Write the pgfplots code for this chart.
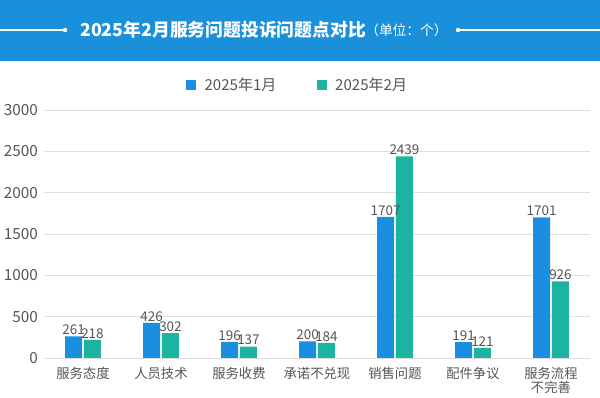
\documentclass[border=0pt]{standalone}
\usepackage{fontspec}
\setmainfont{Noto Sans CJK SC}
\usepackage{pgfplots}
\pgfplotsset{compat=1.18}
\definecolor{banner}{HTML}{1A8FDA}
\definecolor{cblue}{HTML}{1A8FE0}
\definecolor{cgreen}{HTML}{1BB4A0}
\definecolor{tgray}{HTML}{555555}
\begin{document}
\begin{tikzpicture}[x=0.75pt,y=0.75pt]
\path[use as bounding box] (0,0) rectangle (600,398);
\fill[banner] (0,337) rectangle (600,398);
\draw[white, line width=0.8pt] (0,368) -- (65,368);
\fill[white] (65,368) circle (2.2);
\draw[white, line width=0.8pt] (458,368) -- (600,368);
\fill[white] (458,368) circle (2.2);
\node[white, font=\bfseries\fontsize{13.35}{14}\selectfont, anchor=west, inner sep=0pt] at (80,368) {2025年2月服务问题投诉问题点对比};
\node[white, font=\fontsize{10.3}{11}\selectfont, anchor=west, inner sep=0pt] at (365,368) {（单位：个）};
\begin{axis}[
  at={(33pt,30pt)}, anchor=south west,
  scale only axis, width=409.5pt, height=186pt,
  xmin=-0.5, xmax=6.5, ymin=0, ymax=3000,
  ytick={0,500,...,3000},
  ymajorgrids, grid style={gray!25, line width=0.6pt},
  axis line style={draw=none}, tick style={draw=none},
  xtick=data,
  xticklabels={服务态度,人员技术,服务收费,承诺不兑现,销售问题,配件争议,{服务流程\\不完善}},
  xticklabel style={align=center, font=\fontsize{10}{11}\selectfont, text=tgray, yshift=1pt},
  yticklabel style={font=\fontsize{11.5}{12}\selectfont, text=tgray, xshift=-1pt},
  /pgf/number format/assume math mode=true,
  /pgf/number format/1000 sep={},
  ybar, bar width=12.75pt,
  nodes near coords,
  nodes near coords style={font=\fontsize{10.1}{11}\selectfont, text=tgray, inner xsep=0pt, inner ysep=1pt},
  legend style={draw=none, at={(0.465,1.1)}, anchor=center, legend columns=2,
    font=\fontsize{11.3}{12}\selectfont, text=tgray,
    /tikz/every even column/.append style={column sep=28pt}},
  legend image code/.code={\fill[#1] (0pt,-3.8pt) rectangle (7.5pt,3.7pt); \path (0pt,0pt) -- (12pt,0pt);},
]
\addplot[fill=cblue, draw=none, bar shift=-7.1pt] coordinates {(0,261) (1,426) (2,196) (3,200) (4,1707) (5,191) (6,1701)};
\addplot[fill=cgreen, draw=none, bar shift=7.1pt] coordinates {(0,218) (1,302) (2,137) (3,184) (4,2439) (5,121) (6,926)};
\legend{2025年1月,2025年2月}
\end{axis}
\end{tikzpicture}
\end{document}
